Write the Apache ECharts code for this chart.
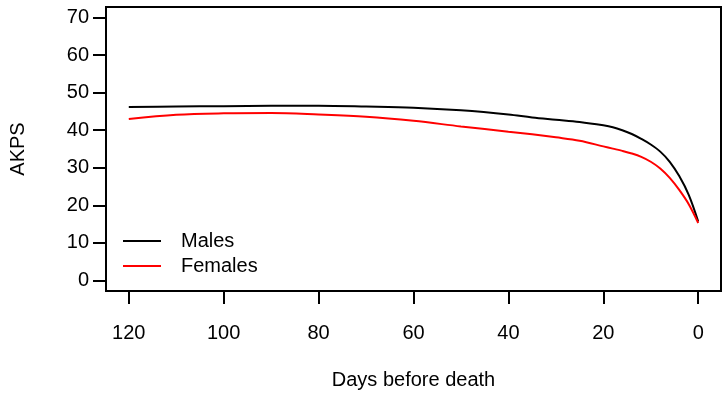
<!DOCTYPE html>
<html>
<head>
<meta charset="utf-8">
<script src="https://cdn.jsdelivr.net/npm/echarts@6/dist/echarts.min.js"></script>
<style>
  html, body { margin: 0; padding: 0; background: #fff; }
  #chart { width: 723px; height: 404px; }
</style>
</head>
<body>
<div id="chart"></div>
<script>
// Days before death (x) and AKPS estimates
const days    = [120, 110, 100, 90, 80, 70, 60, 50, 40, 35, 30, 25, 20, 18, 16, 14, 12, 10, 8, 6, 4, 2, 0];
const males   = [46.2, 46.3, 46.4, 46.5, 46.5, 46.3, 46.0, 45.3, 44.2, 43.4, 42.8, 42.2, 41.3, 40.8, 40.0, 39.0, 37.7, 36.2, 34.3, 31.6, 27.8, 22.8, 15.7];
const females = [43.0, 44.1, 44.5, 44.6, 44.2, 43.6, 42.5, 41.0, 39.6, 38.9, 38.1, 37.2, 35.7, 35.1, 34.5, 33.8, 32.9, 31.6, 29.8, 27.3, 24.1, 20.3, 15.3];
const xTicks  = [0, 20, 40, 60, 80, 100, 120];
const yTicks  = [0, 10, 20, 30, 40, 50, 60, 70];
const seriesNames = ['Males', 'Females'];

const FONT = '"Liberation Sans", Arial, Helvetica, sans-serif';
const FS = 20;
const chart = echarts.init(document.getElementById('chart'), null, { renderer: 'canvas' });

// points ordered by increasing day so the smoothing runs along x
function pairs(vals) { return days.map((d, i) => [d, vals[i]]).reverse(); }

chart.setOption({
  backgroundColor: '#ffffff',
  animation: false,
  textStyle: { fontFamily: FONT, color: '#000' },
  grid: {
    left: 104, right: 2, top: 7, bottom: 113,
    show: true, borderColor: '#000', borderWidth: 2, backgroundColor: 'transparent',
    containLabel: false
  },
  legend: {
    orient: 'vertical',
    left: 123, top: 231,
    padding: 0,
    itemGap: 5,
    itemWidth: 38, itemHeight: 2,
    icon: 'rect',
    data: seriesNames,
    textStyle: { fontFamily: FONT, fontSize: FS, color: '#000', lineHeight: 19, padding: [0, 0, 0, 15] }
  },
  xAxis: {
    type: 'value',
    inverse: true,
    position: 'bottom',
    min: -4.8, max: 124.8,
    name: 'Days before death',
    nameLocation: 'middle',
    nameGap: 79,
    nameTextStyle: { fontFamily: FONT, fontSize: FS, color: '#000' },
    axisLine: { show: false, onZero: false },
    splitLine: { show: false },
    axisTick: { show: true, customValues: xTicks, length: 13, inside: false, lineStyle: { color: '#000', width: 2 } },
    axisLabel: { show: true, customValues: xTicks, margin: 32, fontFamily: FONT, fontSize: FS, color: '#000' }
  },
  yAxis: {
    type: 'value',
    position: 'left',
    min: -2.8, max: 72.8,
    name: 'AKPS',
    nameLocation: 'middle',
    nameGap: 78,
    nameRotate: 90,
    nameTextStyle: { fontFamily: FONT, fontSize: FS, color: '#000' },
    axisLine: { show: false, onZero: false },
    splitLine: { show: false },
    axisTick: { show: true, customValues: yTicks, length: 13, inside: false, lineStyle: { color: '#000', width: 2 } },
    axisLabel: { show: true, customValues: yTicks, margin: 17, fontFamily: FONT, fontSize: FS, color: '#000' }
  },
  series: [
    {
      name: seriesNames[0], type: 'line', data: pairs(males),
      smooth: 0.35, showSymbol: false, symbol: 'none',
      lineStyle: { color: '#000000', width: 2 }, itemStyle: { color: '#000000' }
    },
    {
      name: seriesNames[1], type: 'line', data: pairs(females),
      smooth: 0.35, showSymbol: false, symbol: 'none',
      lineStyle: { color: '#ff0000', width: 2 }, itemStyle: { color: '#ff0000' }
    }
  ]
});
</script>
</body>
</html>
